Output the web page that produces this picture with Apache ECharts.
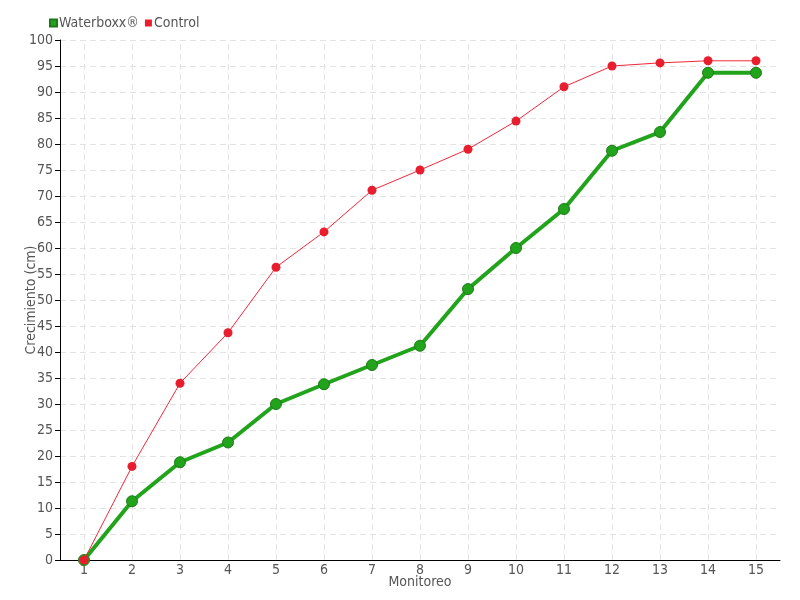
<!DOCTYPE html>
<html><head><meta charset="utf-8">
<script src="https://cdn.jsdelivr.net/npm/echarts@6/dist/echarts.min.js"></script>
<style>html,body{margin:0;padding:0;background:#fff}#c{width:800px;height:600px}</style>
</head><body><div id="c"></div>
<script>
const categories = ['1','2','3','4','5','6','7','8','9','10','11','12','13','14','15'];
const waterboxx = [0, 11.3, 18.8, 22.6, 30, 33.8, 37.5, 41.2, 52.1, 60, 67.5, 78.7, 82.3, 93.7, 93.7];
const control = [0, 18, 34, 43.7, 56.3, 63.1, 71.1, 75, 79, 84.4, 91, 95, 95.6, 96, 96];
const yTicks = {min: 0, max: 100, interval: 5};

const font = 'DejaVu Sans Condensed';
const gridLine = {color: '#e3e3e3', type: [6, 4], width: 1};
const chart = echarts.init(document.getElementById('c'));
chart.setOption({
  animation: false,
  textStyle: {fontFamily: font},
  legend: {
    left: 44, top: 11, itemWidth: 7, itemHeight: 7, itemGap: 6,
    icon: 'rect',
    textStyle: {fontFamily: font, fontSize: 14, color: '#555', padding: [0,0,0,-3]},
    data: ['Waterboxx®', 'Control']
  },
  grid: {left: 60, right: 20, top: 40, bottom: 40, outerBoundsMode: 'none', containLabel: false},
  xAxis: {
    type: 'category', data: categories, boundaryGap: true,
    name: 'Monitoreo', nameLocation: 'middle', nameGap: 15, nameMoveOverlap: false,
    nameTextStyle: {fontFamily: font, fontSize: 14, color: '#555'},
    axisLine: {lineStyle: {color: '#000', width: 1}},
    axisTick: {alignWithLabel: true, lineStyle: {color: '#000'}, length: 5},
    axisLabel: {fontFamily: font, fontSize: 14, color: '#555', margin: 3, interval: 0},
    splitLine: {show: false}
  },
  yAxis: {
    type: 'value', min: yTicks.min, max: yTicks.max, interval: yTicks.interval,
    name: 'Crecimiento (cm)', nameLocation: 'middle', nameGap: 22, nameMoveOverlap: false,
    nameTextStyle: {fontFamily: font, fontSize: 14, color: '#555'},
    axisLine: {show: true, lineStyle: {color: '#000', width: 1}},
    axisTick: {show: true, lineStyle: {color: '#000'}, length: 5},
    axisLabel: {fontFamily: font, fontSize: 14, color: '#555', margin: 7},
    splitLine: {show: true, lineStyle: gridLine}
  },
  series: [
    {
      name: 'Waterboxx®', type: 'line', data: waterboxx,
      symbol: 'circle', symbolSize: 11,
      lineStyle: {color: '#22a31c', width: 4},
      itemStyle: {color: '#22a31c', borderColor: '#1d7a18', borderWidth: 1},
      markLine: {
        silent: true, symbol: ['none', 'none'], label: {show: false},
        lineStyle: gridLine, z: 0,
        data: categories.map(c => ({xAxis: c}))
      },
      z: 2
    },
    {
      name: 'Control', type: 'line', data: control,
      symbol: 'circle', symbolSize: 9,
      lineStyle: {color: '#f0283a', width: 1},
      itemStyle: {color: '#e81e2e'},
      z: 3
    }
  ]
});
</script></body></html>
